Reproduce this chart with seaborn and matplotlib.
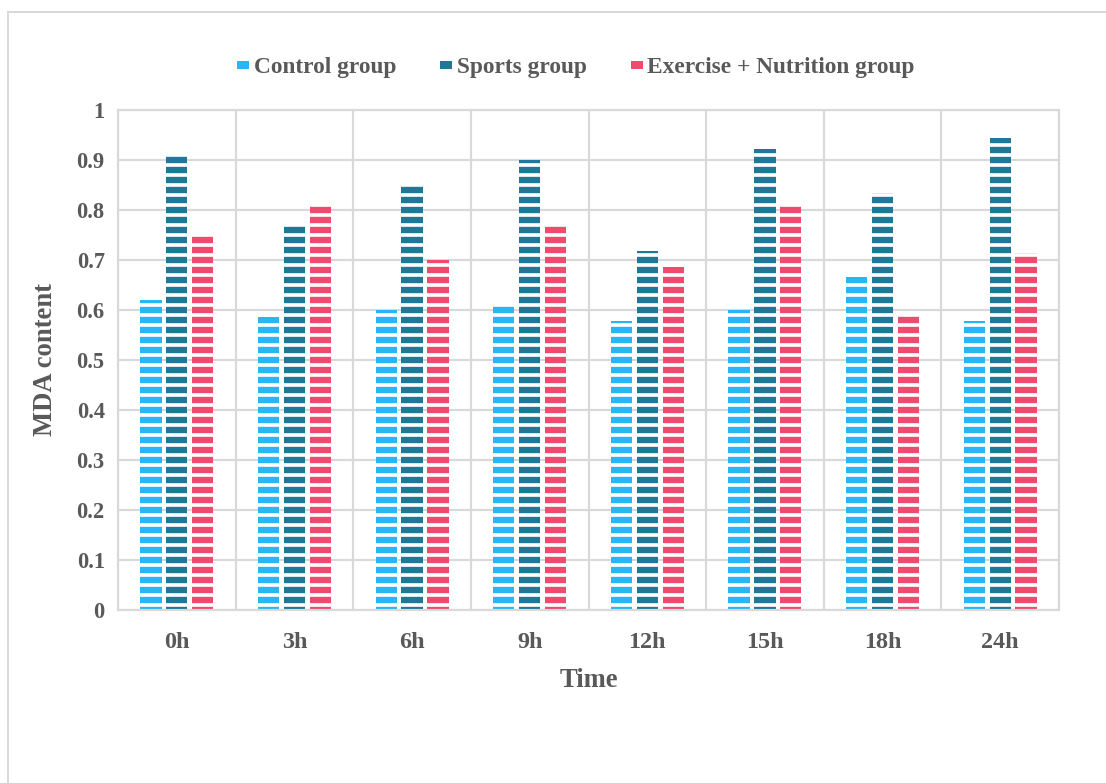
import numpy as np
import pandas as pd
import matplotlib
matplotlib.use("Agg")
import matplotlib.pyplot as plt
from matplotlib.patches import Rectangle, Patch
import seaborn as sns

# MDA content by time point for each group
times = ["0h", "3h", "6h", "9h", "12h", "15h", "18h", "24h"]
groups = ["Control group", "Sports group", "Exercise + Nutrition group"]
control = [0.620, 0.585, 0.600, 0.610, 0.578, 0.600, 0.665, 0.578]
sports = [0.911, 0.772, 0.850, 0.900, 0.718, 0.922, 0.833, 0.943]
exercise_nutrition = [0.751, 0.812, 0.700, 0.772, 0.685, 0.812, 0.588, 0.713]
y_ticks = [0, 0.1, 0.2, 0.3, 0.4, 0.5, 0.6, 0.7, 0.8, 0.9, 1]
y_tick_labels = ["0", "0.1", "0.2", "0.3", "0.4", "0.5", "0.6", "0.7", "0.8", "0.9", "1"]

colors = ["#29B6F6", "#1F7896", "#EE4B6E"]
text_color = "#595959"
grid_color = "#D9D9D9"

df = pd.DataFrame({
    "Time": times * 3,
    "Group": [groups[0]] * len(times) + [groups[1]] * len(times) + [groups[2]] * len(times),
    "MDA": control + sports + exercise_nutrition,
})

sns.set_theme(style="white")
plt.rcParams["font.family"] = ["Liberation Serif", "DejaVu Serif"]
plt.rcParams["font.weight"] = "bold"
plt.rcParams["hatch.linewidth"] = 2.2
plt.rcParams["hatch.color"] = "white"

DPI = 120
fig = plt.figure(figsize=(1106 / DPI, 783 / DPI), dpi=DPI)
fig.patch.set_facecolor("white")
ax = fig.add_axes([118 / 1106, 1 - 610 / 783, (1059 - 118) / 1106, 500 / 783])

sns.barplot(data=df, x="Time", y="MDA", hue="Group", order=times, hue_order=groups,
            palette=colors, width=0.66, gap=0.18, ax=ax, legend=False,
            edgecolor="white", linewidth=0, saturation=1)

# horizontal white stripes across every bar
for bar in ax.patches:
    bar.set_hatch("--")
    bar.set_edgecolor("white")
    bar.set_linewidth(0)

ax.set_ylim(0, 1)
ax.set_xlim(-0.5, len(times) - 0.5)
ax.set_yticks(y_ticks)
ax.set_yticklabels(y_tick_labels)
ax.set_xticks(np.arange(-0.5, len(times), 1), minor=True)
ax.grid(axis="y", which="major", color=grid_color, linewidth=1.3)
ax.grid(axis="x", which="minor", color=grid_color, linewidth=1.3)
ax.grid(axis="x", which="major", visible=False)
ax.set_axisbelow(True)
ax.tick_params(axis="both", which="both", length=0, colors=text_color)
ax.tick_params(axis="y", labelsize=13.5, pad=8)
ax.tick_params(axis="x", labelsize=14.5, pad=13)
for lbl in ax.get_xticklabels() + ax.get_yticklabels():
    lbl.set_fontweight("bold")
for sp in ax.spines.values():
    sp.set_color(grid_color)
    sp.set_linewidth(1.3)

ax.set_xlabel("Time", fontsize=16, fontweight="bold", color=text_color, labelpad=9)
ax.set_ylabel("MDA content", fontsize=16, fontweight="bold", color=text_color, labelpad=11)

handles = [Patch(facecolor=c, edgecolor="none") for c in colors]
fig.legend(handles, groups, loc="center", bbox_to_anchor=(576 / 1106, 1 - 68 / 783),
           ncol=3, frameon=False, handlelength=0.5, handleheight=0.15,
           handletextpad=0.2, columnspacing=1.9,
           prop={"family": "Liberation Serif", "weight": "bold", "size": 14},
           labelcolor=text_color)

# chart area border
fig.patches.append(Rectangle((8 / 1106, -0.1), 1.2, 1 - 12 / 783 + 0.1,
                             transform=fig.transFigure, fill=False,
                             edgecolor=grid_color, linewidth=1.2, zorder=0))

fig.savefig("out.png", dpi=DPI, facecolor="white")
